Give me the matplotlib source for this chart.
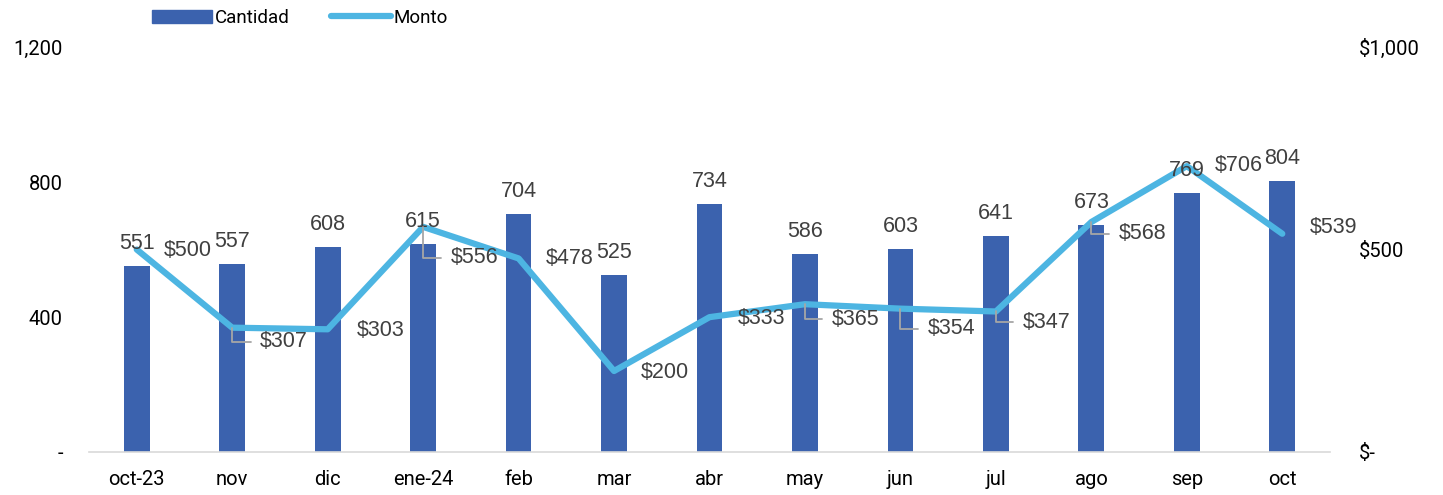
import numpy as np
import matplotlib
matplotlib.use("Agg")
import matplotlib.pyplot as plt
from matplotlib.lines import Line2D
from matplotlib.patches import Patch

meses = ["oct-23", "nov", "dic", "ene-24", "feb", "mar", "abr", "may",
         "jun", "jul", "ago", "sep", "oct"]
cantidad = [551, 557, 608, 615, 704, 525, 734, 586, 603, 641, 673, 769, 804]
monto = [500, 307, 303, 556, 478, 200, 333, 365, 354, 347, 568, 706, 539]

# label offsets (pixels) for the Monto labels, and which ones get a leader line
off_monto = [(51, -1), (52, -14), (53, -1), (51, -31), (51, 0), (51, -1),
             (52, -1), (51, -15), (51, -20), (51, -11), (51, -12), (52, 1), (51, 6)]
leader = [False, True, False, True, False, False, False, True, True, True,
          True, False, False]

bar_col = "#3B62AE"
line_col = "#4DB5E2"
lab_col = "#404040"

plt.rcParams["font.family"] = ["Roboto", "DejaVu Sans"]

fig = plt.figure(figsize=(14.43, 4.95), dpi=100)
ax = fig.add_axes([0.0617, 0.0869, 0.86, 0.818])
ax2 = ax.twinx()

x = np.arange(len(meses))
ax.bar(x, cantidad, width=0.27, color=bar_col, zorder=2)
ax.set_ylim(0, 1200)
ax.set_xlim(-0.5, len(meses) - 0.5)
ax.set_yticks([0, 400, 800, 1200])
ax.set_yticklabels(["-", "400", "800", "1,200"])
ax.set_xticks(x)
ax.set_xticklabels(meses)
ax.tick_params(axis="y", length=0, pad=19, labelsize=14.5)
ax.tick_params(axis="x", length=0, pad=13, labelsize=14.5)
for s in ["top", "left", "right"]:
    ax.spines[s].set_visible(False)
ax.spines["bottom"].set_color("#D9D9D9")
ax.spines["bottom"].set_linewidth(1.2)

ax2.plot(x, monto, color=line_col, lw=4.5, solid_capstyle="round",
         solid_joinstyle="round", zorder=3)
ax2.set_ylim(0, 1000)
ax2.set_yticks([0, 500, 1000])
ax2.set_yticklabels(["$-", "$500", "$1,000"])
ax2.tick_params(axis="y", length=0, pad=21, labelsize=14.5)
for s in ["top", "left", "right", "bottom"]:
    ax2.spines[s].set_visible(False)

# bar labels drawn on ax2 so they sit above the line
for xi, v in zip(x, cantidad):
    ax2.annotate(str(v), (xi, v), xycoords=ax.transData, xytext=(0, 12),
                 textcoords="offset pixels", ha="center", va="bottom",
                 fontsize=15.5, color=lab_col, family="Liberation Sans",
                 zorder=5)

for xi, v, off, ld in zip(x, monto, off_monto, leader):
    kw = {}
    if ld:
        kw["arrowprops"] = dict(arrowstyle="-", color="#A6A6A6", lw=1.3,
                                shrinkA=5, shrinkB=0, relpos=(0, 0.5),
                                connectionstyle="angle,angleA=180,angleB=90,rad=0")
    ax2.annotate(f"${v}", (xi, v), xytext=off, textcoords="offset pixels",
                 ha="center", va="center", fontsize=15.5, color=lab_col,
                 family="Liberation Sans", zorder=5, **kw)

handles = [Patch(color=bar_col), Line2D([0], [0], color=line_col, lw=4.5,
                                        solid_capstyle="round")]
fig.legend(handles, ["Cantidad", "Monto"], loc="center",
           bbox_to_anchor=(0.208, 0.964), ncol=2, frameon=False,
           fontsize=13.5, handlelength=3.2, handletextpad=0.15,
           columnspacing=2.2)

fig.savefig("out.png", dpi=100)
